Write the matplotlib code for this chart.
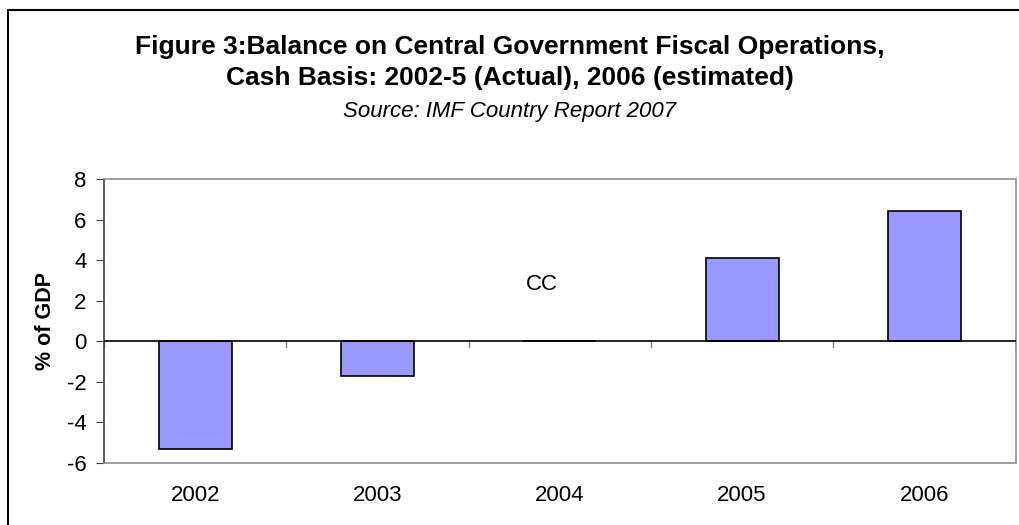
import matplotlib
matplotlib.use("Agg")
from matplotlib import pyplot as plt
from matplotlib.patches import Rectangle

plt.rcParams["font.family"] = ["Liberation Sans", "DejaVu Sans"]

years = ["2002", "2003", "2004", "2005", "2006"]
balance = [-5.3, -1.7, 0.0, 4.1, 6.4]
y_ticks = [-6, -4, -2, 0, 2, 4, 6, 8]
note_text = "CC"


def draw_chart():
    fig = plt.figure(figsize=(10.19, 5.25), dpi=100)
    fig.patches.append(Rectangle((8 / 1019, -0.1), 1.2, 1 - 10 / 525 + 0.1,
                                 transform=fig.transFigure, fill=False,
                                 edgecolor="black", linewidth=1.5))

    ax = fig.add_axes([104 / 1019, 1 - 463 / 525, (1015.5 - 104) / 1019, (463 - 179) / 525])
    x = range(len(years))
    ax.bar(x, balance, width=0.4, color="#9999FF", edgecolor="black", linewidth=1.2, zorder=3)
    ax.axhline(0, color="black", linewidth=1.2, zorder=4)

    # category ticks sit on the zero line
    for i in range(len(years) + 1):
        ax.plot([i - 0.5, i - 0.5], [0, -0.3], color="#808080", linewidth=1, zorder=2)

    ax.set_xlim(-0.5, len(years) - 0.5)
    ax.set_ylim(-6, 8)
    ax.set_yticks(y_ticks)
    ax.set_yticklabels([str(v) for v in y_ticks], fontsize=16)
    ax.set_xticks(list(x))
    ax.set_xticklabels(years, fontsize=16)
    ax.tick_params(axis="x", length=0, pad=16)
    ax.tick_params(axis="y", length=5.5, color="#404040", pad=7)

    for side in ["top", "right", "bottom"]:
        ax.spines[side].set_color("#909090")
        ax.spines[side].set_linewidth(1.2)
    ax.spines["left"].set_color("#404040")
    ax.spines["left"].set_linewidth(1.2)

    ax.set_ylabel("% of GDP", fontsize=15.5, fontweight="bold", labelpad=8)
    ax.text(1.9, 2.8, note_text, fontsize=16, ha="center", va="center")

    fig.text(0.5, 1 - 54 / 525, "Figure 3:Balance on Central Government Fiscal Operations,",
             ha="center", va="baseline", fontsize=19, fontweight="bold")
    fig.text(0.5, 1 - 85 / 525, "Cash Basis: 2002-5 (Actual), 2006 (estimated)",
             ha="center", va="baseline", fontsize=19, fontweight="bold")
    fig.text(0.5, 1 - 117 / 525, "Source: IMF Country Report 2007",
             ha="center", va="baseline", fontsize=16, style="italic")

    fig.savefig("out.png", dpi=100)


if __name__ == "__main__":
    draw_chart()
